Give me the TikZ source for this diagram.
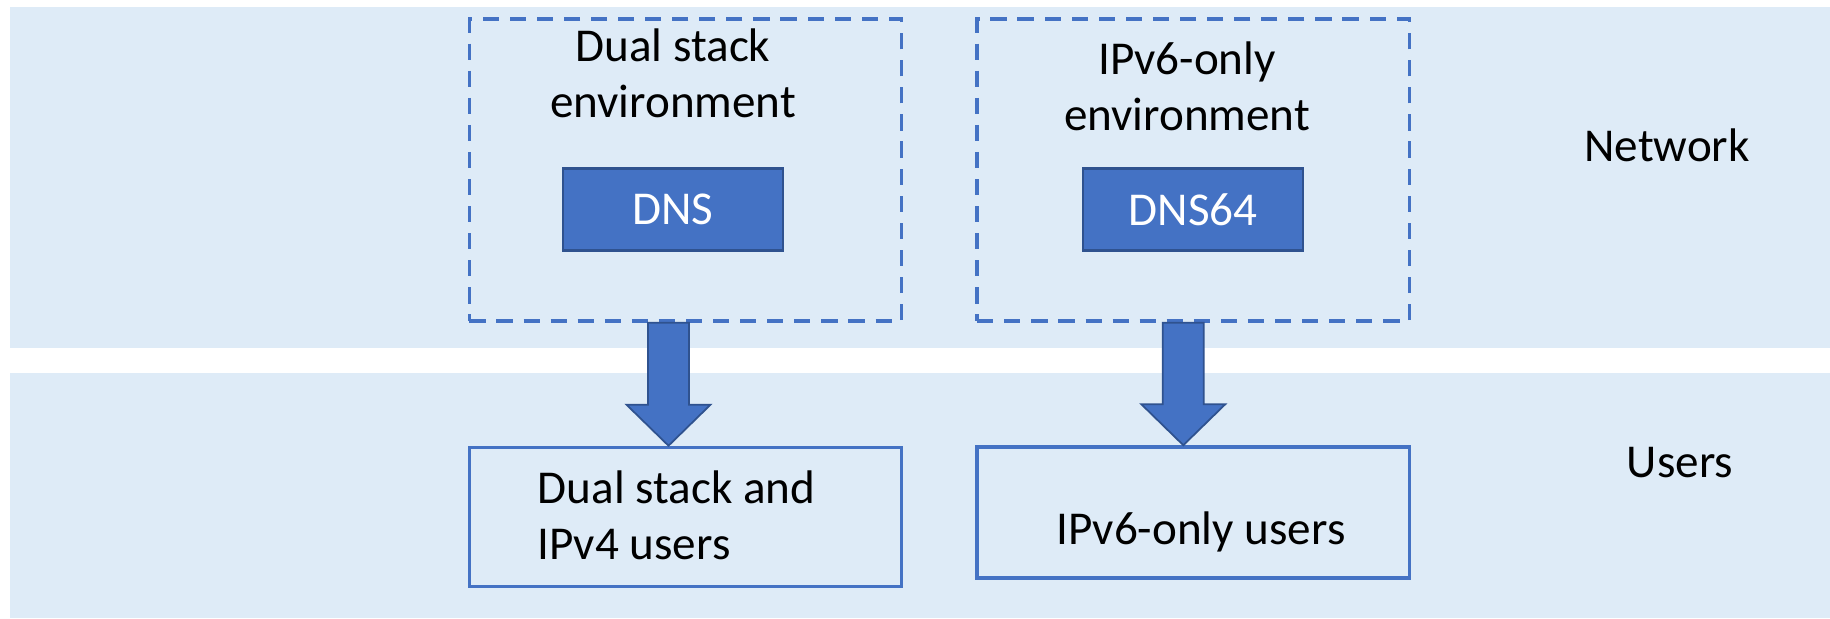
\documentclass[tikz,border=0pt]{standalone}
\usepackage{fontspec}
\setmainfont{Carlito}
\usetikzlibrary{positioning, calc}

\definecolor{bandblue}{HTML}{DEEBF7}
\definecolor{accent}{HTML}{4472C4}
\definecolor{accentdark}{HTML}{2F528F}

\begin{document}
\begin{tikzpicture}[x=0.01cm, y=-0.01cm,
    font=\fontsize{13.4}{15.9}\selectfont,
    band/.style={fill=bandblue, draw=none},
    envbox/.style={draw=accent, dash pattern=on 4.6pt off 3.1pt, line width=1pt,
      minimum width=4.32cm, minimum height=3.02cm},
    server/.style={fill=accent, draw=accentdark, line width=0.75pt, text=white,
      minimum width=2.2cm, minimum height=0.82cm},
    usrbox/.style={draw=accent, line width=1pt, minimum width=4.32cm},
    blockarrow/.style={fill=accent, draw=accentdark, line width=0.5pt},
    lbl/.style={inner sep=0pt}]

  \useasboundingbox (0,0) rectangle (1830,618);

  % layers
  \fill[band] (10,7) rectangle (1830,348);
  \fill[band] (10,373) rectangle (1830,618);
  \node[lbl, anchor=base] (netlbl) at (1667,161.6) {Network};
  \node[lbl, anchor=base] (usrlbl) at (1680,477) {Users};

  % environments
  \node[envbox] (dualenv) at (685.5,170) {};
  \node[envbox] (v6env) at (1193.3,170) {};
  \node[lbl, align=center, anchor=base] (dualtxt) at (673,117) {Dual stack\\environment};
  \node[lbl, align=center, anchor=base] (v6txt) at (1187,130) {IPv6-only\\environment};
  \node[server] (dns) at (673,209.4) {DNS};
  \node[server] (dns64) at (1193,209.4) {DNS64};

  % users
  \node[usrbox, minimum height=1.39cm] (dualusr) at (685.5,517) {};
  \node[usrbox, minimum height=1.31cm] (v6usr) at (1193.3,512.5) {};
  \node[lbl, align=left, anchor=base west] (dualusrtxt) at (537,559.7) {Dual stack and\\IPv4 users};
  \node[lbl, anchor=base] (v6usrtxt) at (1201,544) {IPv6-only users};

  % arrows
  \coordinate (a1) at ($(dualenv.south)+(-17,0)$);
  \coordinate (t1) at (a1 |- dualusr.north);
  \draw[blockarrow] ($(a1)+(-20.5,0)$) -- ($(a1)+(20.5,0)$) -- ($(t1)+(20.5,-41)$)
    -- ($(t1)+(42,-41)$) -- (t1) -- ($(t1)+(-42,-41)$) -- ($(t1)+(-20.5,-41)$) -- cycle;
  \coordinate (a2) at ($(v6env.south)+(-10,0)$);
  \coordinate (t2) at (a2 |- v6usr.north);
  \draw[blockarrow] ($(a2)+(-20.5,0)$) -- ($(a2)+(20.5,0)$) -- ($(t2)+(20.5,-41)$)
    -- ($(t2)+(42,-41)$) -- (t2) -- ($(t2)+(-42,-41)$) -- ($(t2)+(-20.5,-41)$) -- cycle;
\end{tikzpicture}
\end{document}
